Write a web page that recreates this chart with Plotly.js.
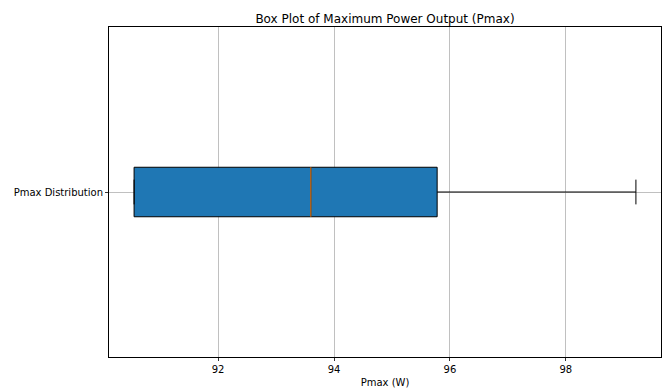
<!DOCTYPE html>
<html>
<head>
<meta charset="utf-8">
<script src="https://cdn.plot.ly/plotly-3.0.1.min.js"></script>
<style>html,body{margin:0;padding:0;background:#fff;}#chart{width:668px;height:390px;}</style>
</head>
<body>
<div id="chart"></div>
<script>
// Data
const categoryLabels = ["Pmax Distribution"];
const categoryPositions = [0];
const q1Values = [90.55];
const medianValues = [93.6];
const q3Values = [95.78];
const lowerWhisker = [90.55];
const upperWhisker = [99.21];
const xTickValues = [92, 94, 96, 98];
const xTickLabels = ["92", "94", "96", "98"];

const boxWidth = 0.15;
const font = "DejaVu Sans, sans-serif";

const boxTrace = {
  type: "box",
  orientation: "h",
  y: categoryPositions,
  q1: q1Values,
  median: medianValues,
  q3: q3Values,
  lowerfence: lowerWhisker,
  upperfence: upperWhisker,
  width: boxWidth,
  whiskerwidth: 0.5,
  fillcolor: "#1f77b4",
  line: {color: "#000000", width: 1},
  boxpoints: false,
  hoverinfo: "skip",
  showlegend: false
};

const medianTraces = medianValues.map((m, i) => ({
  type: "scatter",
  mode: "lines",
  x: [m, m],
  y: [categoryPositions[i] - boxWidth / 2, categoryPositions[i] + boxWidth / 2],
  line: {color: "#ff7f0e", width: 1},
  hoverinfo: "skip",
  showlegend: false
}));

const layout = {
  width: 668,
  height: 390,
  margin: {l: 109, r: 7, t: 27, b: 33, pad: 0},
  paper_bgcolor: "#ffffff",
  plot_bgcolor: "#ffffff",
  font: {family: font, size: 10, color: "#000000"},
  title: {
    text: "Box Plot of Maximum Power Output (Pmax)",
    font: {family: font, size: 12, color: "#000000"},
    x: 0.5, xref: "paper", xanchor: "center",
    y: 1, yref: "paper", yanchor: "bottom", pad: {b: 4}
  },
  xaxis: {
    range: [90.117, 99.643],
    tickvals: xTickValues,
    ticktext: xTickLabels,
    showgrid: true, gridcolor: "#b0b0b0", gridwidth: 0.8,
    zeroline: false,
    showline: true, linecolor: "#000000", linewidth: 1, mirror: true,
    ticks: "outside", ticklen: 3, tickwidth: 0.8, tickcolor: "#000000",
    tickfont: {family: font, size: 10, color: "#000000"},
    title: {text: "Pmax (W)", font: {family: font, size: 10, color: "#000000"}, standoff: 4}
  },
  yaxis: {
    range: [-0.5, 0.5],
    tickvals: categoryPositions,
    ticktext: categoryLabels,
    showgrid: true, gridcolor: "#b0b0b0", gridwidth: 0.8,
    zeroline: false,
    showline: true, linecolor: "#000000", linewidth: 1, mirror: true,
    ticks: "outside", ticklen: 3, tickwidth: 0.8, tickcolor: "#000000",
    tickfont: {family: font, size: 10, color: "#000000"}
  }
};

Plotly.newPlot("chart", [boxTrace, ...medianTraces], layout, {displayModeBar: false, staticPlot: true});
</script>
</body>
</html>
